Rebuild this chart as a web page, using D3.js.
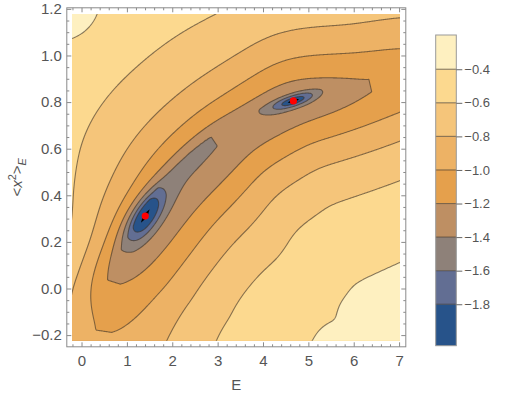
<!DOCTYPE html>
<html>
  <head>
    <meta charset="utf-8">
    <title>Contour plot</title>
    <script src="https://cdn.jsdelivr.net/npm/d3@7"></script>
    <style>
      body { margin: 0; background: #fff; }
      text { font-family: "Liberation Sans", Arial, sans-serif; }
    </style>
  </head>
  <body>
    <script>

      // valley floor (E, <x^2>_E) from bottom-left to right
      const valleyE     = [0.15, 0.30, 0.47, 0.68, 0.96, 1.29, 1.62, 1.95, 2.39, 2.94, 3.49, 4.10, 4.67, 5.37, 6.20, 7.00, 7.80];
      const valleyV     = [-0.80, -0.50, -0.20, 0.02, 0.143, 0.272, 0.379, 0.465, 0.551, 0.637, 0.701, 0.760, 0.805, 0.830, 0.862, 0.900, 0.930];
      const valleyDepth = [-0.90, -0.93, -0.97, -1.20, -1.32, -1.40, -1.42, -1.425, -1.425, -1.41, -1.34, -1.35, -1.35, -1.30, -1.21, -1.15, -1.10];
      // reach (E units) and steepness of the valley walls, upper-left / lower-right side
      const valleyReachUp   = [1.70, 1.70, 1.60, 0.95, 0.90, 1.00, 1.06, 1.15, 1.21, 1.28, 1.48, 1.52, 1.65, 1.72, 1.80, 1.88, 1.92];
      const valleyShapeUp   = [1.50, 1.50, 1.50, 1.80, 1.60, 1.30, 1.10, 1.10, 1.10, 1.15, 1.25, 1.35, 1.50, 1.50, 1.55, 1.60, 1.60];
      const valleyReachDown = [2.50, 2.50, 2.50, 2.10, 1.90, 1.88, 1.90, 1.92, 1.94, 1.88, 1.80, 1.75, 1.65, 1.68, 1.74, 1.76, 1.78];
      const valleyShapeDown = [2.00, 2.00, 2.00, 1.75, 1.80, 1.80, 1.80, 1.80, 1.78, 1.75, 1.72, 1.68, 1.62, 1.65, 1.72, 1.75, 1.75];

      // the two minima (red points)
      const minE     = [1.405, 4.67];
      const minV     = [0.311, 0.805];
      const minDepth = [-0.64, -0.60];
      const minAngle = [57, 18];
      const minLong  = [0.45, 0.36];
      const minShort = [0.19, 0.09];

      // small rise in the top-left corner
      const peakE = [-0.21], peakV = [1.178], peakHeight = [0.10], peakRadius = [0.66];

      const levels = [-1.8, -1.6, -1.4, -1.2, -1.0, -0.8, -0.6, -0.4];
      const valueRange = [-2.047, -0.196];
      const bandColors = ["#27538a", "#626e93", "#8e8179", "#be8f63", "#e5a04c",
                          "#edb265", "#f5c57a", "#fcd98f", "#fef0c0"];

      const xTicks = [0, 1, 2, 3, 4, 5, 6, 7];
      const yTicks = [-0.2, 0, 0.2, 0.4, 0.6, 0.8, 1.0, 1.2];

      const eRange = [-0.21, 7.02];
      const vRange = [-0.224, 1.178];

      const TOP = -0.2, TAU = 24 * 24;

      var width = 506, height = 395;
      var plot = {left: 72, right: 400, top: 14, bottom: 340.7};
      var frame = {left: 66.8, right: 405.8, top: 7.8, bottom: 346.8};

      var svg = d3.select("body").append("svg")
                  .attr("width", width)
                  .attr("height", height);

      var x = d3.scaleLinear().domain(eRange).range([plot.left, plot.right]);
      var y = d3.scaleLinear().domain(vRange).range([plot.bottom, plot.top]);
      var kx = x(1) - x(0);

      // smooth centre line of the valley in pixels, with its parameters along it
      function cr(p0, p1, p2, p3, t) {
        var t2 = t * t, t3 = t2 * t;
        return 0.5 * (2 * p1 + (p2 - p0) * t + (2 * p0 - 5 * p1 + 4 * p2 - p3) * t2 + (3 * p1 - p0 - 3 * p2 + p3) * t3);
      }
      var params = [valleyDepth, valleyReachUp, valleyShapeUp, valleyReachDown, valleyShapeDown];
      var nx = valleyE.map(x), ny = valleyV.map(y);
      var cx = [], cy = [], cp = params.map(function() { return []; });
      var S = 12, nn = nx.length;
      for (let i = 0; i < nn - 1; i++) {
        let i0 = Math.max(i - 1, 0), i3 = Math.min(i + 2, nn - 1);
        for (let s = 0; s < S; s++) {
          let t = s / S;
          cx.push(cr(nx[i0], nx[i], nx[i + 1], nx[i3], t));
          cy.push(cr(ny[i0], ny[i], ny[i + 1], ny[i3], t));
          params.forEach(function(a, j) { cp[j].push(a[i] + (a[i + 1] - a[i]) * t); });
        }
      }
      cx.push(nx[nn - 1]); cy.push(ny[nn - 1]);
      params.forEach(function(a, j) { cp[j].push(a[nn - 1]); });
      var nseg = cx.length - 1, np = params.length;
      var segLen = d3.range(nseg).map(function(k) { return Math.hypot(cx[k + 1] - cx[k], cy[k + 1] - cy[k]); });
      var norm = Math.sqrt(Math.PI * TAU);

      var wells = minE.map(function(e, i) {
        var a = minAngle[i] * Math.PI / 180;
        return {x: x(e), y: y(minV[i]), A: minDepth[i], c: Math.cos(a), s: Math.sin(a),
                sl: minLong[i] * kx, ss: minShort[i] * kx};
      });
      var peaks = peakE.map(function(e, i) {
        return {x: x(e), y: y(peakV[i]), A: peakHeight[i], r: peakRadius[i] * kx};
      });

      var d2s = new Float64Array(nseg), ts = new Float64Array(nseg), acc = new Float64Array(np);
      function field(px, py) {
        var best = Infinity, bk = 0;
        for (let k = 0; k < nseg; k++) {
          let dx = cx[k + 1] - cx[k], dy = cy[k + 1] - cy[k];
          let t = ((px - cx[k]) * dx + (py - cy[k]) * dy) / (dx * dx + dy * dy);
          t = t < 0 ? 0 : (t > 1 ? 1 : t);
          let ex = px - cx[k] - t * dx, ey = py - cy[k] - t * dy;
          let d2 = ex * ex + ey * ey;
          d2s[k] = d2; ts[k] = t;
          if (d2 < best) { best = d2; bk = k; }
        }
        // soft minimum of the distance, soft average of the valley parameters
        var sw = 0;
        acc.fill(0);
        for (let k = 0; k < nseg; k++) {
          let e = d2s[k] - best;
          if (e > 30 * TAU) continue;
          let w = segLen[k] * Math.exp(-e / TAU), t = ts[k];
          sw += w;
          for (let j = 0; j < np; j++) acc[j] += w * (cp[j][k] + (cp[j][k + 1] - cp[j][k]) * t);
        }
        var d = Math.sqrt(Math.max(0, best - TAU * Math.log(sw / norm)));
        var tx = cx[bk + 1] - cx[bk], ty = cy[bk + 1] - cy[bk];
        var fx = cx[bk] + ts[bk] * tx, fy = cy[bk] + ts[bk] * ty;
        var up = tx * (py - fy) - ty * (px - fx) < 0;
        var D = acc[0] / sw;
        var w = (up ? acc[1] : acc[3]) / sw, p = (up ? acc[2] : acc[4]) / sw;
        var f = TOP + (D - TOP) / (1 + Math.pow(d / (w * kx), p));
        wells.forEach(function(wl) {
          var dx = px - wl.x, dy = wl.y - py;
          var a = dx * wl.c + dy * wl.s, b = -dx * wl.s + dy * wl.c;
          f += wl.A * Math.exp(-(a * a) / (2 * wl.sl * wl.sl) - (b * b) / (2 * wl.ss * wl.ss));
        });
        peaks.forEach(function(pk) {
          var dx = px - pk.x, dy = py - pk.y;
          f += pk.A * Math.exp(-(dx * dx + dy * dy) / (2 * pk.r * pk.r));
        });
        return f;
      }

      // sample the field one value per pixel, with a closed rim outside the clip
      var ox = Math.floor(plot.left) - 3, oy = Math.floor(plot.top) - 3;
      var gw = Math.ceil(plot.right) + 3 - ox, gh = Math.ceil(plot.bottom) + 3 - oy;
      var values = new Float64Array(gw * gh);
      for (let j = 0; j < gh; j++) {
        for (let i = 0; i < gw; i++) {
          let rim = i === 0 || j === 0 || i === gw - 1 || j === gh - 1;
          values[j * gw + i] = rim ? -100 : field(ox + i + 0.5, oy + j + 0.5);
        }
      }

      var contours = d3.contours().size([gw, gh]).thresholds(levels)(values);

      svg.append("clipPath").attr("id", "clip")
         .append("rect")
         .attr("x", plot.left).attr("y", plot.top)
         .attr("width", plot.right - plot.left).attr("height", plot.bottom - plot.top);

      var g = svg.append("g").attr("clip-path", "url(#clip)");
      g.append("rect")
       .attr("x", plot.left).attr("y", plot.top)
       .attr("width", plot.right - plot.left).attr("height", plot.bottom - plot.top)
       .attr("fill", bandColors[0]);

      var path = d3.geoPath();
      var cg = g.append("g").attr("transform", "translate(" + ox + "," + oy + ")");
      cg.selectAll("path.band")
        .data(contours)
        .enter().append("path")
        .attr("class", "band")
        .attr("d", path)
        .attr("fill", function(d, i) { return bandColors[i + 1]; });
      cg.selectAll("path.line")
        .data(contours)
        .enter().append("path")
        .attr("class", "line")
        .attr("d", path)
        .attr("fill", "none")
        .attr("stroke", "#3a3026")
        .attr("stroke-opacity", 0.6)
        .attr("stroke-width", 1.1);

      // minima: small black arrow under a red point
      minE.forEach(function(e, i) {
        var px = x(e), py = y(minV[i]);
        var len = i === 0 ? 8 : 6;
        g.append("path")
         .attr("d", "M" + (-len) + ",0L0,-2.4L" + len + ",0L0,2.4Z")
         .attr("transform", "translate(" + px + "," + py + ") rotate(" + (-minAngle[i]) + ")")
         .attr("fill", "#000");
        g.append("circle")
         .attr("cx", px).attr("cy", py).attr("r", 3.6)
         .attr("fill", "#f00");
      });

      // frame with inward ticks on all four sides
      var frameColor = "#8a8a8a", labelColor = "#555";
      svg.append("rect")
         .attr("x", frame.left).attr("y", frame.top)
         .attr("width", frame.right - frame.left).attr("height", frame.bottom - frame.top)
         .attr("fill", "none").attr("stroke", frameColor);

      var xMinor = d3.range(-0.2, 7.01, 0.2).filter(function(v) { return Math.abs(v - Math.round(v)) > 1e-6; });
      var yMinor = d3.range(-0.2, 1.201, 0.05).filter(function(v) { return Math.abs(v * 5 - Math.round(v * 5)) > 1e-6; });
      var fmt = function(v) { return d3.format(".1f")(v).replace("-", "\u2212"); };

      function styleAxis(sel) {
        sel.select(".domain").remove();
        sel.selectAll("line").attr("stroke", frameColor);
        sel.selectAll("text").attr("fill", labelColor).style("font-size", "15px")
           .style("font-family", "'Liberation Sans', Arial, sans-serif");
      }

      svg.append("g").attr("transform", "translate(0," + frame.bottom + ")")
         .call(d3.axisBottom(x).tickValues(xTicks).tickSize(-4.5).tickPadding(9).tickFormat(d3.format("d")))
         .call(styleAxis);
      svg.append("g").attr("transform", "translate(0," + frame.bottom + ")")
         .call(d3.axisBottom(x).tickValues(xMinor).tickSize(-2.5).tickFormat(""))
         .call(styleAxis);
      svg.append("g").attr("transform", "translate(0," + frame.top + ")")
         .call(d3.axisTop(x).tickValues(xTicks).tickSize(-4.5).tickFormat(""))
         .call(styleAxis);
      svg.append("g").attr("transform", "translate(0," + frame.top + ")")
         .call(d3.axisTop(x).tickValues(xMinor).tickSize(-2.5).tickFormat(""))
         .call(styleAxis);
      svg.append("g").attr("transform", "translate(" + frame.left + ",0)")
         .call(d3.axisLeft(y).tickValues(yTicks).tickSize(-4.5).tickPadding(5).tickFormat(fmt))
         .call(styleAxis);
      svg.append("g").attr("transform", "translate(" + frame.left + ",0)")
         .call(d3.axisLeft(y).tickValues(yMinor).tickSize(-2.5).tickFormat(""))
         .call(styleAxis);
      svg.append("g").attr("transform", "translate(" + frame.right + ",0)")
         .call(d3.axisRight(y).tickValues(yTicks).tickSize(-4.5).tickFormat(""))
         .call(styleAxis);
      svg.append("g").attr("transform", "translate(" + frame.right + ",0)")
         .call(d3.axisRight(y).tickValues(yMinor).tickSize(-2.5).tickFormat(""))
         .call(styleAxis);

      // axis labels
      svg.append("text")
         .attr("x", (frame.left + frame.right) / 2).attr("y", 390)
         .attr("text-anchor", "middle")
         .attr("fill", labelColor).style("font-size", "15px")
         .text("E");

      var yl = svg.append("text")
         .attr("transform", "translate(22," + ((frame.top + frame.bottom) / 2) + ") rotate(-90)")
         .attr("text-anchor", "middle")
         .attr("fill", labelColor).style("font-size", "15px");
      yl.append("tspan").text("<");
      yl.append("tspan").style("font-style", "italic").text("x");
      yl.append("tspan").attr("dy", -6).style("font-size", "11px").text("2");
      yl.append("tspan").attr("dy", 6).text(">");
      yl.append("tspan").attr("dy", 4).style("font-size", "11px").style("font-style", "italic").text("E");

      // colour bar
      var bar = {left: 435.7, right: 456.3, top: 35, bottom: 345.7};
      var cbY = d3.scaleLinear().domain(valueRange).range([bar.bottom, bar.top]);
      var edges = [valueRange[0]].concat(levels, [valueRange[1]]);
      svg.selectAll("rect.cb")
         .data(bandColors)
         .enter().append("rect")
         .attr("class", "cb")
         .attr("x", bar.left).attr("width", bar.right - bar.left)
         .attr("y", function(d, i) { return cbY(edges[i + 1]); })
         .attr("height", function(d, i) { return cbY(edges[i]) - cbY(edges[i + 1]); })
         .attr("fill", function(d) { return d; });
      svg.selectAll("line.cbl")
         .data(levels)
         .enter().append("line")
         .attr("class", "cbl")
         .attr("x1", bar.left).attr("x2", bar.right)
         .attr("y1", cbY).attr("y2", cbY)
         .attr("stroke", "#3a3026").attr("stroke-opacity", 0.6).attr("stroke-width", 1.1);
      svg.append("rect")
         .attr("x", bar.left).attr("y", bar.top)
         .attr("width", bar.right - bar.left).attr("height", bar.bottom - bar.top)
         .attr("fill", "none").attr("stroke", "#999");
      svg.append("g").attr("transform", "translate(" + bar.right + ",0)")
         .call(d3.axisRight(cbY).tickValues(levels.slice().reverse()).tickSize(6).tickPadding(2).tickFormat(fmt))
         .call(function(sel) {
           sel.select(".domain").remove();
           sel.selectAll("line").attr("stroke", "#666");
           sel.selectAll("text").attr("fill", labelColor).style("font-size", "13px")
              .style("font-family", "'Liberation Sans', Arial, sans-serif");
         });

    </script>
  </body>
</html>
